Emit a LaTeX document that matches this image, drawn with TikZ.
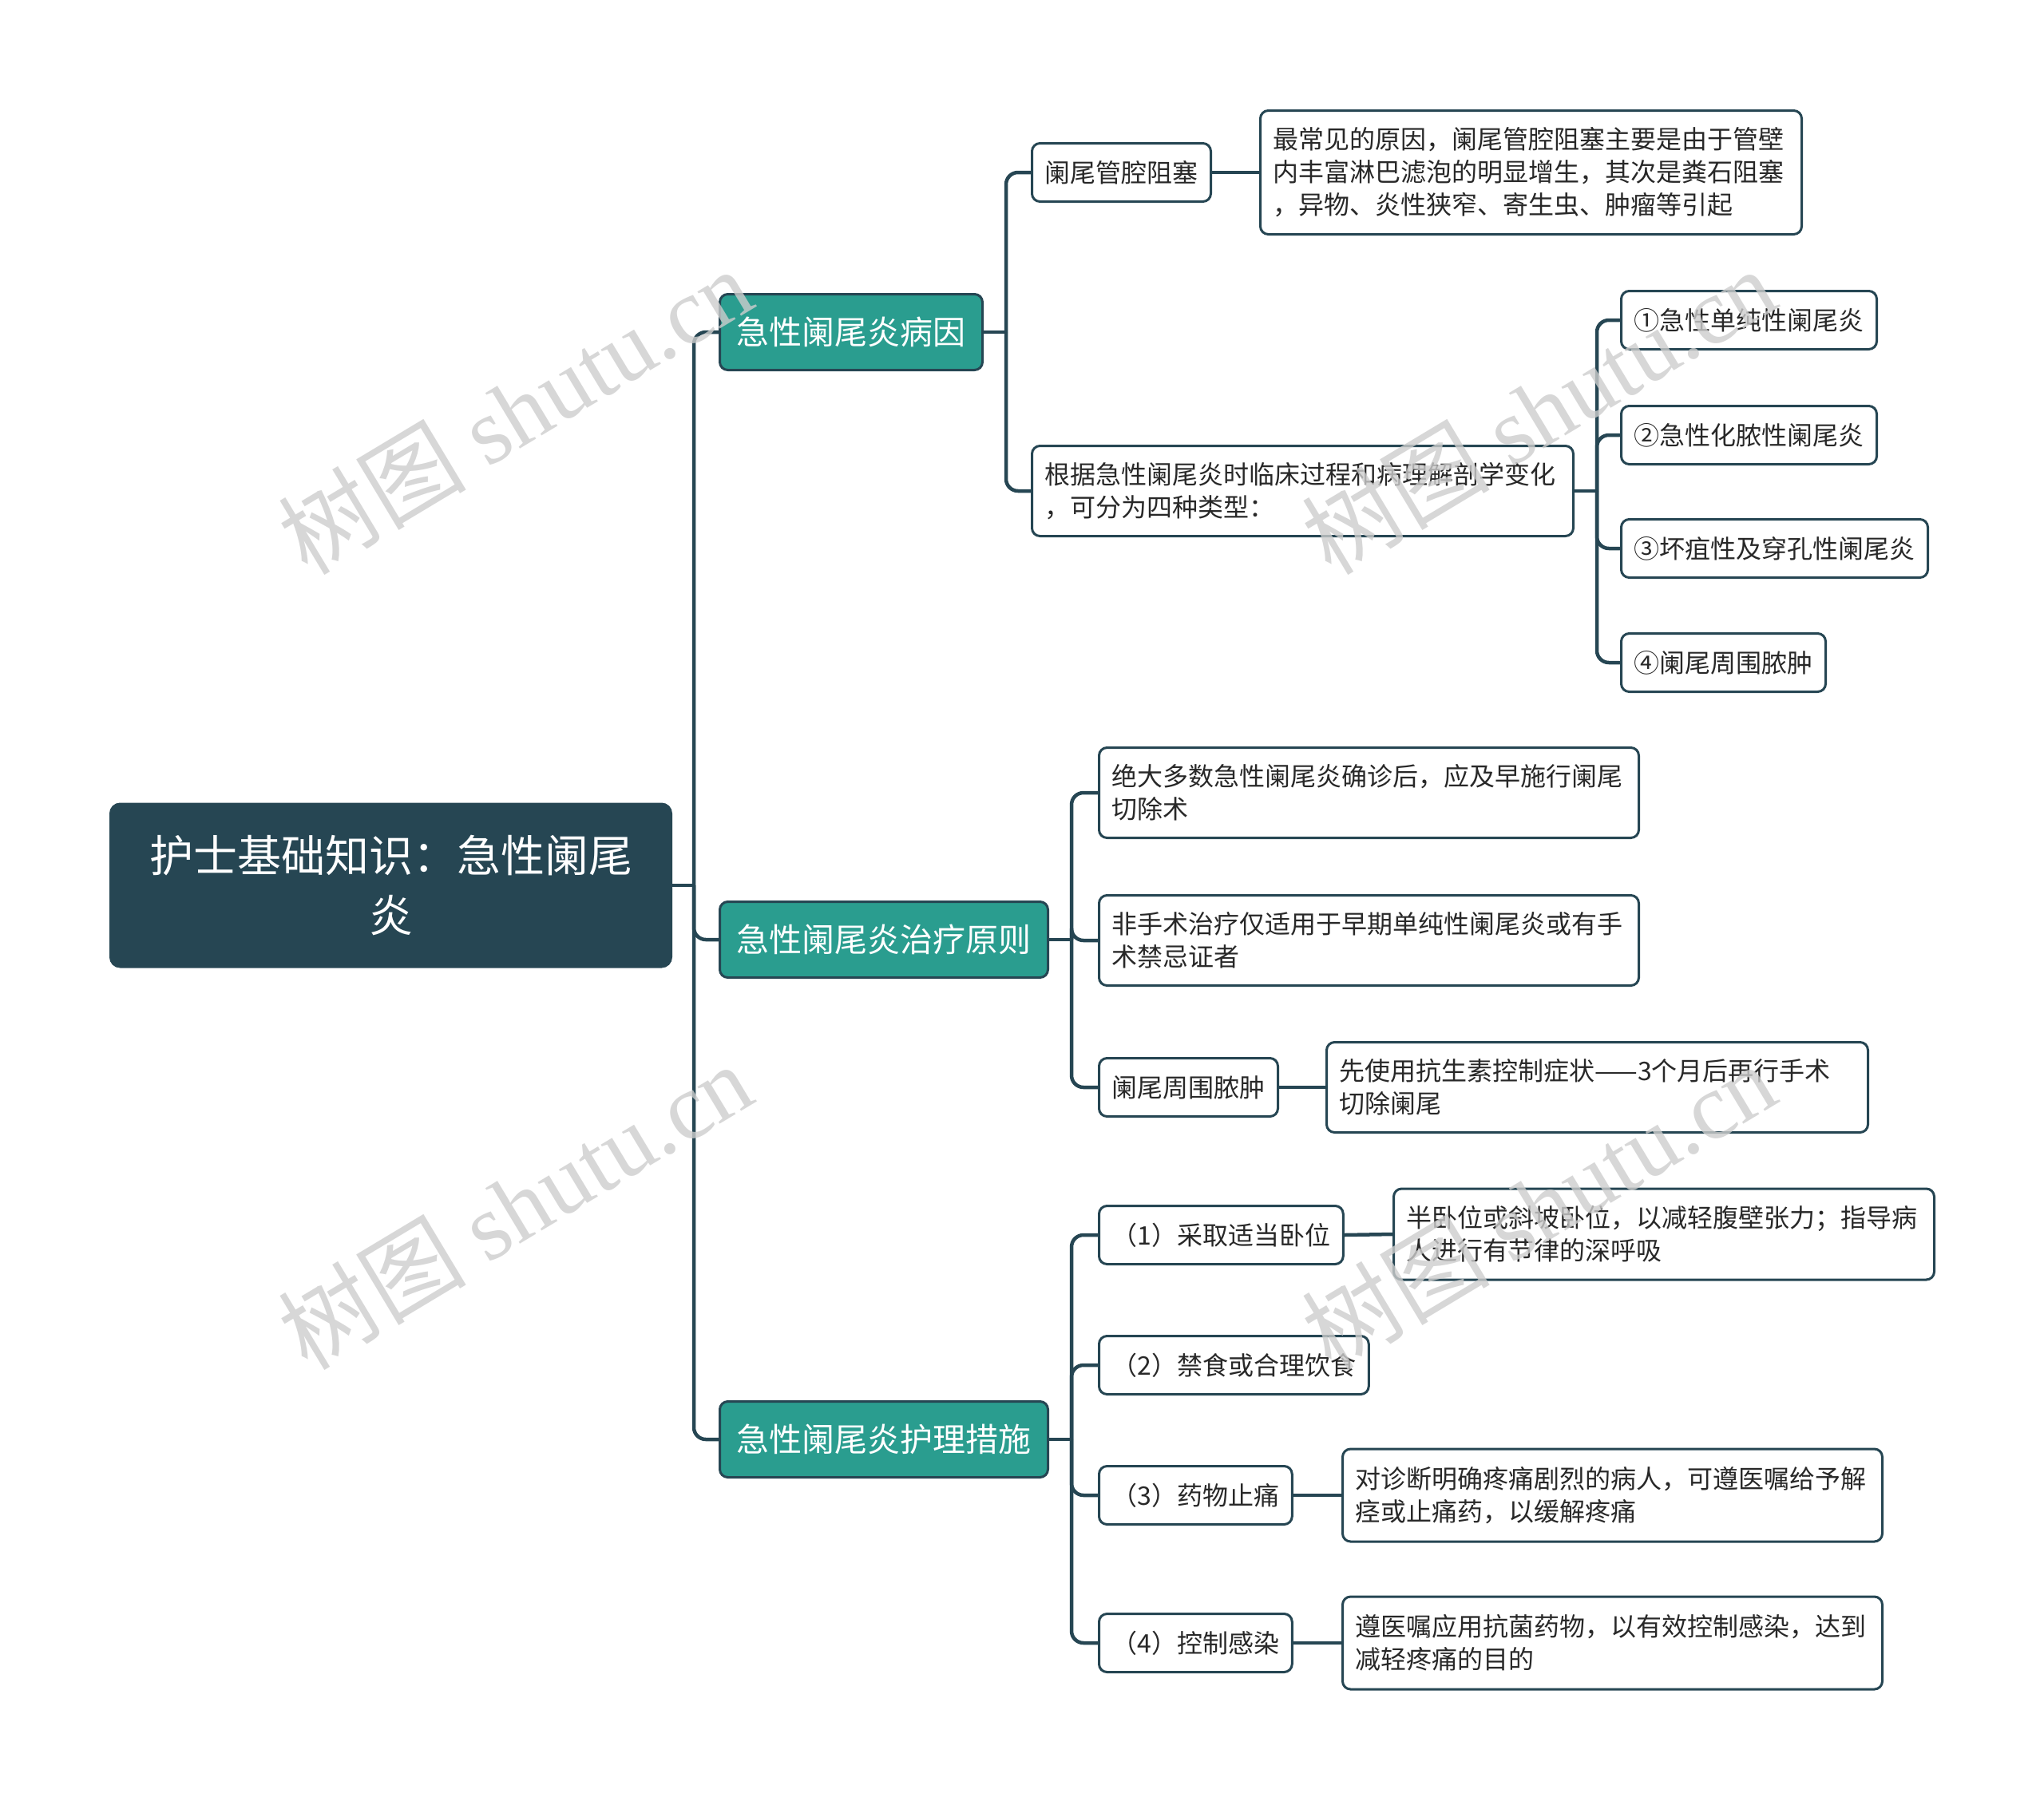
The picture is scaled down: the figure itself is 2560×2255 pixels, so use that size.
\documentclass[tikz,border=0pt]{standalone}
\usepackage{fontspec}
\setmainfont{Noto Sans CJK SC}
\newfontfamily\cjk{Noto Sans CJK SC}
\newfontfamily\wmserif{Liberation Serif}
\definecolor{dark}{RGB}{38,70,83}
\definecolor{teal}{RGB}{42,157,143}
\definecolor{txt}{RGB}{40,40,40}
\definecolor{wm}{RGB}{205,205,205}
\begin{document}
\begin{tikzpicture}[x=1pt,y=-1pt,
  rootbox/.style={draw=dark, fill=dark, line width=3pt, rounded corners=12pt, text=white,
    font=\fontsize{55}{75}\selectfont, align=center, anchor=west, inner sep=0pt},
  lvone/.style={draw=dark, fill=teal, line width=3pt, rounded corners=10pt, text=white,
    font=\fontsize{41}{50}\selectfont, anchor=west, inner xsep=21pt, inner ysep=0pt, minimum height=95pt},
  leaf/.style={draw=dark, fill=white, line width=3pt, rounded corners=10pt, text=txt,
    font=\fontsize{32}{41}\selectfont, anchor=west, inner xsep=16pt, inner ysep=0pt, minimum height=73pt},
  desc/.style={leaf, align=left},
  conn/.style={draw=dark, line width=4.5pt, rounded corners=15pt},
  wmark/.style={text=wm, opacity=0.8, rotate=31, font=\fontsize{118}{118}\selectfont}
]
\useasboundingbox (0,0) rectangle (2560,2255);

% root
\node[rootbox, minimum width=702pt, minimum height=204pt] (root) at (137,1109) {护士基础知识：急性阑尾\\炎};

% level one
\node[lvone] (n1) at (900,416) {急性阑尾炎病因};
\node[lvone] (n2) at (900,1177) {急性阑尾炎治疗原则};
\node[lvone] (n3) at (900,1803) {急性阑尾炎护理措施};

% causes
\node[leaf] (a1) at (1291,216) {阑尾管腔阻塞};
\node[desc, text width=646pt, minimum height=155pt] (a1d) at (1577,216) {最常见的原因，阑尾管腔阻塞主要是由于管壁\\内丰富淋巴滤泡的明显增生，其次是粪石阻塞\\，异物、炎性狭窄、寄生虫、肿瘤等引起};
\node[desc, text width=646pt, minimum height=113pt] (a2) at (1291,615) {根据急性阑尾炎时临床过程和病理解剖学变化\\，可分为四种类型：};
\node[leaf] (t1) at (2029,401) {①急性单纯性阑尾炎};
\node[leaf] (t2) at (2029,545) {②急性化脓性阑尾炎};
\node[leaf] (t3) at (2029,687) {③坏疽性及穿孔性阑尾炎};
\node[leaf] (t4) at (2029,830) {④阑尾周围脓肿};

% treatment
\node[desc, text width=644pt, minimum height=113pt] (b1) at (1375,993) {绝大多数急性阑尾炎确诊后，应及早施行阑尾\\切除术};
\node[desc, text width=644pt, minimum height=113pt] (b2) at (1375,1178) {非手术治疗仅适用于早期单纯性阑尾炎或有手\\术禁忌证者};
\node[leaf] (b3) at (1375,1362) {阑尾周围脓肿};
\node[desc, text width=646pt, minimum height=113pt] (b3d) at (1660,1362) {先使用抗生素控制症状——3个月后再行手术\\切除阑尾};

% nursing
\node[leaf] (c1) at (1375,1547) {（1）采取适当卧位};
\node[desc, text width=645pt, minimum height=114pt] (c1d) at (1744,1546) {半卧位或斜坡卧位，以减轻腹壁张力；指导病\\人进行有节律的深呼吸};
\node[leaf] (c2) at (1375,1710) {（2）禁食或合理饮食};
\node[leaf] (c3) at (1375,1873) {（3）药物止痛};
\node[desc, text width=644pt, minimum height=116pt] (c3d) at (1680,1873) {对诊断明确疼痛剧烈的病人，可遵医嘱给予解\\痉或止痛药，以缓解疼痛};
\node[leaf] (c4) at (1375,2058) {（4）控制感染};
\node[desc, text width=644pt, minimum height=116pt] (c4d) at (1680,2058) {遵医嘱应用抗菌药物，以有效控制感染，达到\\减轻疼痛的目的};

% junctions
\coordinate (j0) at (869,1109);
\coordinate (j1) at (1260,416);
\coordinate (j2) at (2000,615);
\coordinate (j3) at (1342,1177);
\coordinate (j4) at (1342,1803);

% connectors
\draw[conn] (root.east) -- (j0);
\draw[conn] (j0) |- (n1.west);
\draw[conn] (j0) |- (n2.west);
\draw[conn] (j0) |- (n3.west);

\draw[conn] (n1.east) -- (j1);
\draw[conn] (j1) |- (a1.west);
\draw[conn] (j1) |- (a2.west);
\draw[conn] (a1.east) -- (a1d.west);

\draw[conn] (a2.east) -- (j2);
\draw[conn] (j2) |- (t1.west);
\draw[conn] (j2) |- (t2.west);
\draw[conn] (j2) |- (t3.west);
\draw[conn] (j2) |- (t4.west);

\draw[conn] (n2.east) -- (j3);
\draw[conn] (j3) |- (b1.west);
\draw[conn] (j3) |- (b2.west);
\draw[conn] (j3) |- (b3.west);
\draw[conn] (b3.east) -- (b3d.west);

\draw[conn] (n3.east) -- (j4);
\draw[conn] (j4) |- (c1.west);
\draw[conn] (j4) |- (c2.west);
\draw[conn] (j4) |- (c3.west);
\draw[conn] (j4) |- (c4.west);
\draw[conn] (c1.east) -- (c1d.west);
\draw[conn] (c3.east) -- (c3d.west);
\draw[conn] (c4.east) -- (c4d.west);

% watermarks
\node[wmark] (w1) at (645,514) {树图 {\wmserif shutu.cn}};
\node[wmark] (w2) at (645,1510) {树图 {\wmserif shutu.cn}};
\node[wmark] (w3) at (1927,514) {树图 {\wmserif shutu.cn}};
\node[wmark] (w4) at (1927,1510) {树图 {\wmserif shutu.cn}};
\end{tikzpicture}
\end{document}
